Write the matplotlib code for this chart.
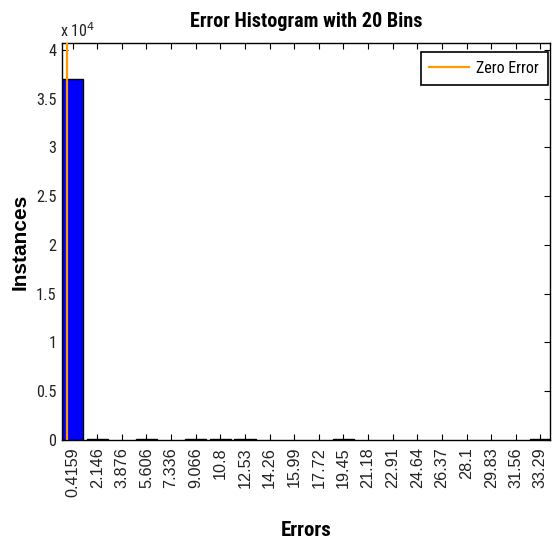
import matplotlib
matplotlib.use("Agg")
import matplotlib.pyplot as plt
from matplotlib import font_manager
from matplotlib.ticker import FuncFormatter, FixedLocator

# ---- data ----
bin_centers = [0.4159, 2.146, 3.876, 5.606, 7.336, 9.066, 10.8, 12.53, 14.26, 15.99,
               17.72, 19.45, 21.18, 22.91, 24.64, 26.37, 28.1, 29.83, 31.56, 33.29]
tick_labels = ["0.4159", "2.146", "3.876", "5.606", "7.336", "9.066", "10.8", "12.53",
               "14.26", "15.99", "17.72", "19.45", "21.18", "22.91", "24.64", "26.37",
               "28.1", "29.83", "31.56", "33.29"]
instances = [37000, 150, 0, 120, 0, 110, 130, 120, 0, 0,
             0, 100, 0, 0, 0, 0, 0, 0, 0, 140]
zero_error = 0.0
y_ticks = [0, 5000, 10000, 15000, 20000, 25000, 30000, 35000, 40000]

names = {f.name for f in font_manager.fontManager.ttflist}
narrow = None
for cand in ["Liberation Sans Narrow", "Arial Narrow", "Roboto Condensed",
             "Open Sans Condensed", "Noto Sans Condensed", "Noto Sans SemiCondensed"]:
    if cand in names:
        narrow = cand
        break
regular = "Liberation Sans"
if narrow is None:
    narrow = regular
    hs = 0.85  # shrink horizontal text to mimic the condensed look
else:
    hs = 1.0

fig = plt.figure(figsize=(5.54, 5.39), dpi=100)
ax = fig.add_axes([62/554, 1-440/539, (550-62)/554, (440-43)/539])

w = (bin_centers[-1] - bin_centers[0]) / (len(bin_centers) - 1)
lws = [1.0 if v > 0 else 0.0 for v in instances]
ax.bar(bin_centers, instances, width=0.86*w, color="#0000FF", edgecolor="black",
       linewidth=lws, zorder=2)
ax.axvline(zero_error, color="#FF9900", lw=1.6, zorder=3, label="Zero Error")

ax.set_xlim(bin_centers[0] - 0.43*w, bin_centers[-1] + 0.39*w)
ax.set_ylim(0, 40700)

ax.xaxis.set_major_locator(FixedLocator(bin_centers))
ax.set_xticklabels(tick_labels, rotation=90, fontfamily=regular, fontsize=11.7)
ax.yaxis.set_major_locator(FixedLocator(y_ticks))
ax.yaxis.set_major_formatter(FuncFormatter(lambda v, p: ("%g" % (v/1e4))))
for lab in ax.get_yticklabels():
    lab.set_fontfamily(narrow)
    lab.set_fontsize(11.7*hs)
ax.tick_params(direction="in", length=4, width=0.8, top=True, right=True,
               colors="black", labelcolor="#222222")
ax.tick_params(axis="x", pad=5)
ax.tick_params(axis="y", pad=4)
for s in ax.spines.values():
    s.set_linewidth(1.0)

ax.text(-0.005, 1.03, "x 10$^4$", transform=ax.transAxes, ha="left", va="center",
        fontfamily=narrow, fontsize=11.5*hs, color="#222222")

ax.text(0.5, 1 + 22/397, "Error Histogram with 20 Bins", transform=ax.transAxes,
        ha="center", va="center", fontfamily=narrow, fontweight="bold", fontsize=14.5*hs)
ax.set_xlabel("Errors", fontfamily=narrow, fontweight="bold", fontsize=15*hs)
ax.xaxis.set_label_coords(0.5, -0.204)
ax.xaxis.label.set_va("top")
ax.set_ylabel("Instances", fontfamily=regular, fontweight="bold", fontsize=15)
ax.yaxis.set_label_coords(-0.086, 0.5)
ax.yaxis.label.set_va("center")

leg = ax.legend(loc="upper right", bbox_to_anchor=((548-62)/488, (440-52)/397),
                prop={"family": narrow, "size": 11.5*hs},
                frameon=True, fancybox=False, edgecolor="black", framealpha=1,
                handlelength=2.5, handletextpad=0.45, borderaxespad=0.0, borderpad=0.55)
leg.get_frame().set_linewidth(1.2)

fig.savefig("out.png", dpi=100)
